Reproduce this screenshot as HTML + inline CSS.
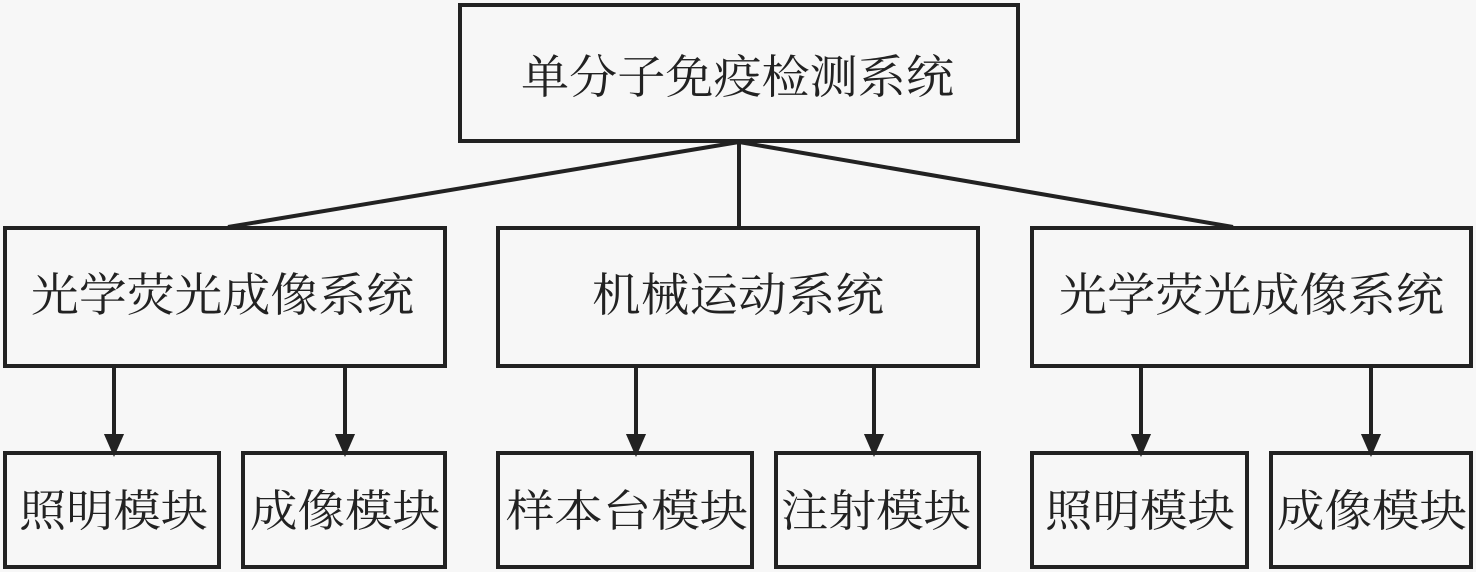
<!DOCTYPE html>
<html><head><meta charset="utf-8"><style>
html,body{margin:0;padding:0;background:#f7f7f7;}
svg{display:block;}
text{font-family:"Liberation Serif","Noto Serif CJK SC",serif;fill:#222;}
</style></head><body>
<svg width="1476" height="572" viewBox="0 0 1476 572" xmlns="http://www.w3.org/2000/svg">
<defs><marker id="a" markerWidth="6" markerHeight="6" refX="5" refY="3" orient="auto" markerUnits="strokeWidth"><path d="M0,0 L6,3 L0,6 z" fill="#222"/></marker></defs>
<g fill="none" stroke="#222" stroke-width="4">
<rect x="460" y="5" width="558" height="136"/>
<rect x="5" y="228" width="440" height="138"/>
<rect x="498" y="228" width="480" height="138"/>
<rect x="1032" y="228" width="439" height="138"/>
<rect x="5" y="453" width="214" height="114"/>
<rect x="243" y="453" width="202" height="114"/>
<rect x="498" y="453" width="254" height="114"/>
<rect x="776" y="453" width="203" height="114"/>
<rect x="1032" y="453" width="215" height="114"/>
<rect x="1271" y="453" width="200" height="114"/>
<line x1="739" y1="142" x2="228" y2="227"/>
<line x1="739" y1="142" x2="739" y2="227"/>
<line x1="739" y1="142" x2="1233" y2="227"/>
</g>
<g stroke="#222" stroke-width="4" fill="#222">
<line x1="114" y1="367" x2="114" y2="438"/><path d="M107,436 L121,436 L114,452 z"/>
<line x1="345" y1="367" x2="345" y2="438"/><path d="M338,436 L352,436 L345,452 z"/>
<line x1="636" y1="367" x2="636" y2="438"/><path d="M629,436 L643,436 L636,452 z"/>
<line x1="874" y1="367" x2="874" y2="438"/><path d="M867,436 L881,436 L874,452 z"/>
<line x1="1141" y1="367" x2="1141" y2="438"/><path d="M1134,436 L1148,436 L1141,452 z"/>
<line x1="1371" y1="367" x2="1371" y2="438"/><path d="M1364,436 L1378,436 L1371,452 z"/>
</g>
<g font-size="46">
<text x="521" y="93" textLength="433" lengthAdjust="spacingAndGlyphs">单分子免疫检测系统</text>
<text x="31" y="311" textLength="383" lengthAdjust="spacingAndGlyphs">光学荧光成像系统</text>
<text x="592" y="311" textLength="292" lengthAdjust="spacingAndGlyphs">机械运动系统</text>
<text x="1059" y="311" textLength="385" lengthAdjust="spacingAndGlyphs">光学荧光成像系统</text>
</g>
<g font-size="44">
<text x="19" y="526" textLength="189" lengthAdjust="spacingAndGlyphs">照明模块</text>
<text x="250" y="526" textLength="190" lengthAdjust="spacingAndGlyphs">成像模块</text>
<text x="506" y="526" textLength="242" lengthAdjust="spacingAndGlyphs">样本台模块</text>
<text x="781" y="526" textLength="190" lengthAdjust="spacingAndGlyphs">注射模块</text>
<text x="1045" y="526" textLength="190" lengthAdjust="spacingAndGlyphs">照明模块</text>
<text x="1277" y="526" textLength="190" lengthAdjust="spacingAndGlyphs">成像模块</text>
</g>
</svg>
</body></html>
